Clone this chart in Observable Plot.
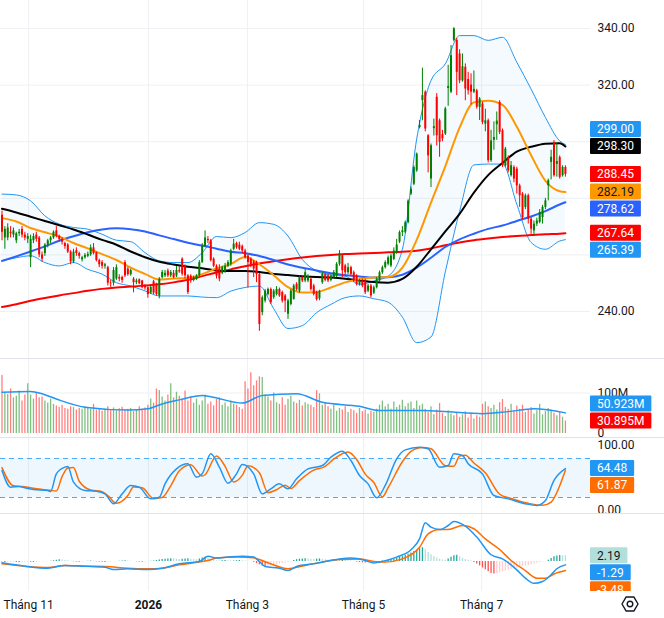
<!DOCTYPE html>
<html><head><meta charset="utf-8">
<script src="https://cdn.jsdelivr.net/npm/d3@7"></script>
<script src="https://cdn.jsdelivr.net/npm/@observablehq/plot@0.6"></script>
<style>
html,body{margin:0;padding:0;background:#fff;}
#chart{position:relative;width:664px;height:618px;overflow:hidden;background:#fff;}
.sep{position:absolute;left:0;width:664px;height:1px;background:#e0e3eb;}
</style></head><body><div id="chart"></div>
<script>
// ---------- DATA ----------
const monthIdx = [9.3, 51.2, 85.8, 126.4, 167.7];
const monthLabels = ["Tháng 11", "2026", "Tháng 3", "Tháng 5", "Tháng 7"];
const priceTicks = [240, 260, 280, 300, 320, 340];

const open = [274,266,266,268,267,265,267.5,269,267,265.5,
259,265,267,266,260,260.5,263.5,265,266,268.5,
266.5,265.5,264,263.5,261,257.5,261.5,260.5,258.3,259,
259.5,260,262.5,260.8,258,257.3,256,255.5,250,250,
251.5,252,252,257.3,255,253,251.4,250.2,251.2,250.8,
249,248.4,246.5,250.5,249.6,245.5,252,252.6,254.3,252.6,
253.5,252.5,254.5,258.5,256,252.6,252.5,251,251.5,252.6,
257.3,263,265.5,265,258.5,256,255,253.5,254,256,
256.7,262,264,263.5,263,261.4,259.6,258.5,257.5,257.3,
253.1,239.6,243.7,246,247.8,244.9,246,247.8,246.7,245.5,
239,242.5,244.3,249.6,247.2,252,250.8,250.8,251.4,249,
246.7,244.5,250.2,253,252.6,251,252,252.6,256.7,259.7,
256.1,253.7,255.5,253.7,252.5,249.6,250.8,250.8,247.2,249,
246.5,248.4,250.8,253.7,255.5,256.7,256.1,258.4,260.8,264.5,
267.9,268,271.4,281.5,285,289.7,305,314.5,317.5,302.1,
286.8,304.6,315.7,307.4,302.5,302.7,318.8,317.5,335.8,335.8,
331,321.5,326.3,322,320,317.5,318,312.1,313.3,306.2,
307.4,293.3,300.5,306,313.9,303.9,291.5,294.4,288,290.9,
290.3,284.4,281.5,276.8,280.9,272.6,268.5,270.9,271.5,273.2,
276.8,284.4,292.7,299.7,292,294.4,288,290.9];
const high = [275.5,270,271,270,269.5,268,269,270,268,267.5,
267,267.5,268,266.5,261,264,265.5,266.5,268.5,270,
267,266,264.5,264,261.5,262,262.5,261,259.5,260.5,
261,263.5,264,261,258.5,258,257,256,251,255.5,
256.5,253,252.5,258,255.5,255,252,251.5,251.5,251,
249.5,248.6,249,251,250,252,254.5,254.5,255,254.5,
254.5,256,256,259,256.5,253,253,252.5,253,258,
264,268.5,266.5,265.5,259,256.5,256.5,256,257,258,
262,265.5,264.5,264.5,263.5,262,260,259,258,257.8,
253.5,245.5,247.8,248.3,248.3,247.8,248.8,248.3,247.2,246,
244.3,247.8,249.6,250.2,252.5,252.5,254.8,253,252,249.6,
247.2,247.5,253.8,253.5,253,253,254.5,257.3,261.5,260.2,
256.7,257,256,254.3,253,251.4,251.4,251.4,249.6,249.6,
249,252,254.3,256.1,257.9,259.6,260.2,262.5,265.5,268.5,
270,272,279.5,284,291.5,296,307.5,326,318,302.5,
299.2,308,317,308,304,312.2,327,334,340.3,336.5,
332.5,331,327.5,324.5,324,325,318.5,315.6,314,311.5,
308,304,307,310.5,314.5,304.5,298,295,293,291.5,
291,285,282,281.5,281.5,273.2,272,273,276,277.5,
280,286.8,297,300.4,299.7,295,291.5,291.5];
const low = [265,262,265,266,266,264,266.5,266,265,264,
255.5,264,264.5,259,257.5,259.5,262.5,264,265.5,266,
264.5,263.5,262,260.5,256.5,257,259.5,258.5,257.5,258.5,
259,259.5,260,257.5,255.5,255,255,249,248.5,249,
251,250.5,250,252,252.5,252.5,246.6,249.5,249.5,248,
247.5,244.7,246,246,245.5,244.5,251.5,252,252,252,
251.5,252,253.5,252.5,251.5,246,250,250.5,251,252,
257,262.5,264,257.5,255.5,251.5,250.5,253,253.5,255.5,
256,261.5,262,261.5,260.5,258.5,248.4,255.5,252,250.2,
233,238.5,243,245.5,242.5,244.3,245.5,245,243,239.6,
237.2,242,244,247.2,246.5,250.2,250.2,250.2,247.2,245.5,
243.7,243.8,249.6,250.5,250.2,250.5,251.5,252,256,252,
252.6,253,252.5,250.2,249,249,248.4,246,246.7,244.8,
246,248,250.2,253.1,255,256.1,255.5,258,260.2,264,
266.5,267.5,271,281,284.5,289.2,304.5,307.4,303.5,289,
283.8,302,298.5,294.5,300,302.2,312.5,317,335.3,316.3,
320.5,321,314.5,316.5,313,317,311.5,307.5,306,303.5,
292.5,292.7,297,300.5,302.5,290.9,291,289,287.5,285.5,
281.5,276.8,272.5,276,270.9,267.3,266.7,270,271,270.9,
276,279.1,286.5,287.5,287.5,286.8,287.5,287.5];
const close = [268,269,269.5,267.5,268.5,267.5,268,267,266,266.5,
265.5,266.5,265.5,260,258.5,263.5,265,266,268,266.5,
265.5,264.5,263,261,257.5,261,260.5,259.5,259,259.8,
260.2,262.5,260.5,258,256.5,256,256.5,250,249.8,254.5,
255.5,251.5,251,252.6,253,254.5,250.2,250.8,249.8,248.4,
248.3,246,248.5,246.5,246,251.4,253.8,253.5,252.6,253.8,
252,254.5,254,253.2,252.6,246.7,250.8,252,252.5,257.3,
263.2,266,265,258,256,252.5,251.5,255.5,256,257.3,
261.4,263.8,262.5,262,261.4,259,257.3,256.5,255,253.1,
235.4,244.9,247.2,247.8,243.1,247.2,247.8,245.5,243.7,243.7,
243.7,247.2,249,247.8,252,250.8,253.7,252.3,247.8,246,
244.2,247,253.2,251,250.8,252.5,253.8,256.7,260.3,254.4,
253.7,255.5,253.1,250.8,249.6,250.8,249,246.7,249,245.5,
248.4,251.4,253.7,255.5,257.3,259,259.6,261.4,263.5,267.9,
268.5,271.4,279,283.2,290.9,295.6,305.8,316.3,304.5,295,
298.6,305.3,302.1,299.8,301,311.6,319.5,330.4,339.9,324.5,
321.5,326.5,318.6,318,317.5,318.5,312.2,315.1,306.8,307.4,
293.3,300.3,301.5,307.3,303.3,291.5,297.4,289.7,291.5,286.8,
284.4,280.9,273.2,280.9,272.6,269.1,270.9,272,275,276.8,
279.1,286.2,294.5,288,293,287.4,290.9,288.45];

// indicator lines (read every 5 candles)
const lineIdx = [0,5,10,15,20,25,30,35,40,45,50,55,60,65,70,75,80,85,90,95,100,105,110,115,120,125,130,135,140,145,150,155,160,165,170,175,180,185,190,195,197];
const ma20 = [273,271.8,269.5,268,266.5,264.2,262.3,260.3,258.2,255.5,253.3,251.3,251.7,251.8,253.2,255.2,256.8,259.3,256.7,252.8,248.6,246.7,246.9,248.5,250.3,251.4,252,252.2,255.5,265.3,278.5,291.3,305,313.9,314.5,313,305.3,295.2,286.2,282.5,282.19];
const ma50 = [276.3,275,273.5,272,270.5,269,267.2,265.3,263.6,261.2,259.2,257.6,256.6,255.8,255.3,254.5,254.3,254.3,254,253.3,252.9,252.5,252.2,252,251.6,251,250.4,250.2,251.5,255.8,262,268.3,274.5,282,288.2,292.5,296.5,298.2,299.3,299.5,298.30];
const ma100 = [257.9,259.5,261.2,263,265,266.6,268,269,269.4,269.1,268.3,266.9,265.6,264.3,263.3,262.2,261.1,260.6,259.6,258.2,256.6,255.5,254.5,253.5,252.8,252.4,252,252.1,253,255.5,259,262.8,265.5,267.5,269.2,270.4,272,273.6,275.5,277.8,278.62];
const ma200 = [241.6,242.6,243.8,244.8,245.7,246.5,247.3,248,248.5,248.8,249.2,249.6,250.3,251.2,252.5,253.8,254.9,256,257,257.8,258.5,259.1,259.6,260,260.3,260.5,260.7,260.9,261.1,261.5,262.3,263.4,264.4,265.2,265.8,266.3,266.7,267,267.3,267.5,267.64];
const bbUpper = [281.5,281.2,279.1,273.8,270.9,269.7,269.1,267.3,265.2,264.7,260.8,257.9,257.3,257.3,260.8,266.5,266.1,267.9,271.4,270.8,266.7,258.4,254.3,252.9,252.5,249.6,250.8,252.5,262,301,321.6,327.5,337.5,337.5,335.8,336.9,328.1,318.6,308.6,300.3,299.00];
const bbLower = [257.9,259,259.7,257.3,256.1,257.3,254.9,253.2,250.2,249,247.3,245.5,245.5,245.5,245.1,244.9,247.2,248.5,249,241,234,235,239.6,242.5,244.9,245.5,244.5,243.3,238,229,231,254,275.4,291.8,292.1,292.1,277.9,264.4,262,264.9,265.39];

// volume (millions)
const volume = [143,100,96,110,88,92,105,80,95,123,
95,85,100,88,90,80,75,85,72,
68,65,70,62,60,66,64,58,62,60,66,
64,60,72,58,62,55,60,66,58,63,56,61,65,57,60,62,54,58,66,60,63,
70,85,75,110,106,90,80,95,123,88,102,92,84,105,80,
90,75,85,70,80,95,72,78,68,84,88,70,75,66,80,72,70,64,60,
128,110,150,118,130,140,138,
95,90,80,100,76,72,88,70,84,92,78,74,82,68,76,72,70,64,
106,98,70,
75,66,60,70,55,62,58,66,52,60,56,50,62,54,58,48,55,52,60,
70,80,66,72,60,78,64,70,82,66,74,78,62,80,68,72,
60,52,66,46,58,74,50,42,56,48,44,52,40,46,54,38,50,36,44,40,
72,78,66,62,70,58,76,84,64,60,72,56,68,
60,70,52,58,64,48,56,72,46,54,62,58,50,44,52,40,30.895];
const volMaIdx = [0,10,14,19,29,44,51,56,62,70,73,84,91,103,112,125,132,147,156,168,177,186,197];
const volMa = [102,104,98,85,65,58,61,73,83,94,91,75,94,98,77,67,57,57,53.5,49,54,61,50.923];
const volTicks = [0, 100];

// Stoch RSI
const stochBands = [20, 80];
const stochTicks = [0, 100];
const stochKIdx = [0,3,6,8,11,16,17,19,22,23,25,29,33,36,39,42,45,48,52,55,57,61,65,68,70,73,76,79,82,84,88,91,94,97,100,103,107,112,115,119,122,125,128,131,134,138,141,146,149,153,156,158,161,163,168,172,177,183,187,190,193,197];
const stochK = [61.5,35.9,36.9,34.9,32.3,30.8,29.2,56.4,66.7,67.7,43.6,30.8,29.7,25.6,10.3,25.6,38.5,35.9,17.9,20.5,41,64.1,71.8,51.3,56.4,87.2,66.7,42,56.4,70.8,56.4,25.6,33.3,41,33.3,48.7,64.1,69.2,82,91.3,76.9,53.8,41,19.5,38.5,79.5,93.3,97.4,94.9,66.7,69.2,87.2,84.6,71.8,56.4,23.1,17.9,10.3,7.7,15.4,46.2,64.48];
const stochDIdx = [0,4,7,10,13,17,19,21,23,25,27,31,35,37,40,44,46,49,53,56,59,62,66,70,71,75,78,81,84,86,90,93,96,99,101,104,109,113,116,121,124,127,130,133,135,140,143,147,150,155,158,160,162,165,169,174,178,184,189,192,195,197];
const stochD = [66,38,37,35,33,31,30,52,65.5,66,45,31.5,29,23,11,23,36,35,18.5,20,38,61,70.5,53,55,84,68,44,54,69,58,27.5,32,39,34,46,62,68,79,90,78.5,56,43,21,35,75,91,97,95,69,68,84,85,73,58,25,18.5,11,8,13,38,61.87];

// MACD
const macdIdx = [0,8,16,22,29,36,39,44,51,56,62,69,72,75,79,84,88,90,92,97,100,103,109,118,122,127,130,132,138,143,146,148,150,153,156,158,162,166,171,175,180,183,186,189,192,194,197];
const macdLine = [-0.5,-1.8,-2.6,-1.5,-1.8,-2.2,-3.1,-2.8,-3.1,-2.6,-0.9,0,2.05,1.3,1.7,2.05,1.7,0,-1.9,-2.6,-3.5,-1.9,-0.9,1.0,1.3,0.4,-0.6,-0.2,1.7,4.5,8.7,14.9,13.2,12.3,13.85,15.4,13.6,9.4,2.6,1.0,-3.2,-6.4,-8.4,-7.7,-5.1,-2.8,-1.29];
const sigIdx = [0,8,16,22,29,36,44,51,56,62,67,72,75,82,88,93,100,106,118,125,130,134,140,146,149,153,156,161,165,169,174,178,183,187,190,193,197];
const sigLine = [-0.9,-1.8,-2.3,-1.5,-1.8,-1.9,-2.6,-2.8,-2.6,-1.3,-0.5,0.4,1.3,1.7,1.4,-0.5,-2.8,-1.5,0.8,1.0,0,-0.2,1.0,5.5,10.6,12.3,12.3,13.85,12.6,8.7,4.6,0.4,-3.5,-6.4,-6.4,-4.8,-3.48];
const macdHist = [-0.4,-0.5,-0.4,-0.3,-0.3,-0.4,-0.5,-0.4,-0.3,-0.2,-0.3,-0.4,-0.3,-0.2,-0.2,-0.1,-0.1,0.1,
0.3,0.5,0.7,0.6,0.4,0.3,
0.1,-0.1,-0.2,-0.3,-0.2,-0.1,0.1,0.2,0.1,-0.1,-0.2,-0.3,-0.4,-0.3,-0.2,-0.1,-0.1,0.1,0.2,0.3,0.2,0.1,0.0,-0.1,-0.2,-0.3,-0.2,-0.1,0.1,0.2,
0.4,0.6,0.8,0.9,1.0,1.1,1.0,0.9,0.8,0.9,1.0,1.1,0.9,0.8,0.7,
1.0,1.3,1.6,1.2,0.8,0.5,
0.3,0.2,0.3,0.4,0.3,0.2,0.2,0.3,0.4,0.3,0.2,0.1,0.0,
-0.3,-0.8,-1.3,-1.8,-2.0,-1.9,-1.7,-1.5,-1.2,-1.0,-0.8,-0.6,-0.4,-0.2,
0.4,0.7,0.9,1.0,1.1,1.0,0.9,0.8,0.9,1.0,0.8,
0.7,0.6,0.5,0.6,0.5,0.4,0.5,0.4,0.3,0.2,0.1,
-0.2,-0.4,-0.5,-0.6,-0.5,-0.4,-0.3,-0.2,-0.1,
0.2,0.4,0.6,0.8,1.0,1.3,1.6,2.0,2.4,2.8,3.3,3.8,4.3,4.9,5.3,
4.4,3.5,2.6,1.9,1.3,0.9,0.6,0.5,
1.0,1.6,2.2,2.4,1.8,
1.2,0.8,0.5,0.2,
-0.4,-1.0,-1.7,-2.5,-3.2,-3.9,-4.6,-4.8,-4.6,-4.3,-4.0,-3.7,
-3.4,-3.1,-2.8,-2.5,-2.2,-2.0,-1.8,-1.6,-1.3,-1.0,-0.7,-0.4,-0.2,-0.1,
0.5,1.2,1.8,2.1,2.3,2.2,2.19];

// ---------- STYLE / LAYOUT ----------
const W = 664, PW = 590, MR = W - PW;
const STEP = 2.86, XOFF = 1.5;
const XD = [-XOFF / STEP, (PW - XOFF) / STEP];
const FONT = "Roboto, 'Liberation Sans', Arial, sans-serif";
const TXT = "#131722", GRID = "#eef0f4";
const UP = "#008000", DN = "#ff0000";
const C_BB = "#2196f3", C_MA20 = "#ff9800", C_MA50 = "#000000", C_MA100 = "#2962ff", C_MA200 = "#ff0000";
const C_K = "#2196f3", C_D = "#ff6d00";
const styleObj = {fontFamily: FONT, fontSize: "12px", color: TXT, background: "#fff"};
const chart = document.getElementById("chart");

const candles = close.map((c, i) => ({i, o: open[i], h: high[i], l: low[i], c, up: c >= open[i]}));
const pts = (idx, vals) => idx.map((i, k) => ({i, v: vals[k]}));
const band = lineIdx.map((i, k) => ({i, lo: bbLower[k], up: bbUpper[k]}));

function place(svg, top) {
  svg.style.position = "absolute"; svg.style.left = "0px"; svg.style.top = top + "px";
  chart.appendChild(svg);
}
let clipN = 0;
function boxes(plot, items, clipH) {
  const y = plot.scale("y");
  const svg = d3.select(plot);
  const g = svg.append("g").attr("font-family", FONT).attr("font-size", 12).attr("text-anchor", "start");
  if (clipH) {
    const id = "bxclip" + (clipN++);
    svg.append("clipPath").attr("id", id).append("rect").attr("x", 0).attr("y", 0).attr("width", W).attr("height", clipH);
    g.attr("clip-path", `url(#${id})`);
  }
  const BH = 17, placed = [];
  for (const it of items) {
    let yy = y.apply(it.v), n = 0, hit;
    while ((hit = placed.find(p => Math.abs(p.y - yy) < BH)) && n++ < 10) {
      yy = hit.y + (it.v < hit.v ? BH : -BH);
    }
    placed.push({y: yy, v: it.v});
    const gg = g.append("g");
    const r = gg.append("rect").attr("x", PW).attr("y", yy - 8).attr("height", 16).attr("fill", it.bg).attr("rx", 1);
    const t = gg.append("text").attr("x", PW + 7).attr("y", yy).attr("dy", "0.35em").attr("text-anchor", "start").attr("fill", it.fg || "#fff").text(it.text);
    r.attr("width", t.node().getComputedTextLength() + 14);
  }
  return placed;
}
// tick labels that sit under a value box are hidden by it
function hideCovered(plot, ticks, fmt, placed) {
  const y = plot.scale("y");
  const covered = new Set(ticks.filter(t => placed.some(p => Math.abs(p.y - y.apply(t)) < 13)).map(fmt));
  d3.select(plot).selectAll("text").filter(function () {
    return covered.has(this.textContent) && !this.closest("g[text-anchor='start'] > g");
  }).filter(function () { return this.parentNode.getAttribute("aria-label") === "y-axis tick label" || this.closest("[aria-label='y-axis tick label']"); }).remove();
}

// ---------- PRICE PANE ----------
const fmt2 = d => d.toFixed(2);
const pricePlot = Plot.plot({
  width: W, height: 358, marginLeft: 0, marginRight: MR, marginTop: 0, marginBottom: 0,
  style: styleObj,
  x: {type: "linear", domain: XD, axis: null},
  y: {domain: [223.4, 349.9], axis: "right", ticks: priceTicks, tickFormat: fmt2, tickSize: 0, tickPadding: 7, label: null},
  marks: [
    Plot.ruleY(priceTicks, {stroke: GRID}),
    Plot.ruleX(monthIdx, {stroke: GRID}),
    Plot.areaY(band, {x: "i", y1: "lo", y2: "up", fill: C_BB, fillOpacity: 0.05, curve: "monotone-x"}),
    Plot.line(band, {x: "i", y: "up", stroke: C_BB, strokeWidth: 1, curve: "monotone-x"}),
    Plot.line(band, {x: "i", y: "lo", stroke: C_BB, strokeWidth: 1, curve: "monotone-x"}),
    Plot.line(pts(lineIdx, ma200), {x: "i", y: "v", stroke: C_MA200, strokeWidth: 2, curve: "monotone-x"}),
    Plot.line(pts(lineIdx, ma100), {x: "i", y: "v", stroke: C_MA100, strokeWidth: 2, curve: "monotone-x"}),
    Plot.line(pts(lineIdx, ma50), {x: "i", y: "v", stroke: C_MA50, strokeWidth: 2, curve: "monotone-x"}),
    Plot.line(pts(lineIdx, ma20), {x: "i", y: "v", stroke: C_MA20, strokeWidth: 2, curve: "monotone-x"}),
    Plot.ruleX(candles.filter(d => d.up), {x: "i", y1: "l", y2: "h", stroke: UP, strokeWidth: 1}),
    Plot.ruleX(candles.filter(d => !d.up), {x: "i", y1: "l", y2: "h", stroke: DN, strokeWidth: 1}),
    Plot.ruleX(candles.filter(d => d.up), {x: "i", y1: "o", y2: "c", stroke: UP, strokeWidth: 2}),
    Plot.ruleX(candles.filter(d => !d.up), {x: "i", y1: "o", y2: "c", stroke: DN, strokeWidth: 2})
  ]
});
place(pricePlot, 0);
const last = candles[candles.length - 1];
const pricePlaced = boxes(pricePlot, [
  {v: last.c, text: last.c.toFixed(2), bg: last.up ? UP : DN},
  {v: ma50.at(-1), text: ma50.at(-1).toFixed(2), bg: C_MA50},
  {v: ma20.at(-1), text: ma20.at(-1).toFixed(2), bg: C_MA20, fg: TXT},
  {v: ma200.at(-1), text: ma200.at(-1).toFixed(2), bg: C_MA200},
  {v: bbUpper.at(-1), text: bbUpper.at(-1).toFixed(2), bg: C_BB},
  {v: ma100.at(-1), text: ma100.at(-1).toFixed(2), bg: C_MA100},
  {v: bbLower.at(-1), text: bbLower.at(-1).toFixed(2), bg: C_BB}
]);
hideCovered(pricePlot, priceTicks, fmt2, pricePlaced);

// ---------- VOLUME PANE ----------
const vols = volume.map((v, i) => ({i, v, up: candles[i].up}));
const volPlot = Plot.plot({
  width: W, height: 79, marginLeft: 0, marginRight: MR, marginTop: 0, marginBottom: 0,
  style: styleObj,
  x: {type: "linear", domain: XD, axis: null},
  y: {domain: [-9.9, 185.2], axis: "right", ticks: volTicks, tickFormat: d => d === 0 ? "0" : d + "M", tickSize: 0, tickPadding: 7, label: null},
  marks: [
    Plot.ruleY([100], {stroke: GRID}),
    Plot.ruleX(monthIdx, {stroke: GRID}),
    Plot.ruleX(vols.filter(d => d.up), {x: "i", y1: 0, y2: "v", stroke: UP, strokeOpacity: 0.5, strokeWidth: 1.3}),
    Plot.ruleX(vols.filter(d => !d.up), {x: "i", y1: 0, y2: "v", stroke: DN, strokeOpacity: 0.5, strokeWidth: 1.3}),
    Plot.line(pts(volMaIdx, volMa), {x: "i", y: "v", stroke: C_BB, strokeWidth: 1.5, curve: "monotone-x"})
  ]
});
place(volPlot, 358);
boxes(volPlot, [
  {v: volume.at(-1), text: volume.at(-1).toFixed(3) + "M", bg: last.up ? UP : DN},
  {v: volMa.at(-1), text: volMa.at(-1).toFixed(3) + "M", bg: C_BB}
]);

// ---------- STOCH RSI PANE ----------
const stochPlot = Plot.plot({
  width: W, height: 76, marginLeft: 0, marginRight: MR, marginTop: 0, marginBottom: 0,
  style: styleObj,
  x: {type: "linear", domain: XD, axis: null},
  y: {domain: [-4.6, 112.3], axis: "right", ticks: stochTicks, tickFormat: fmt2, tickSize: 0, tickPadding: 7, label: null},
  marks: [
    Plot.ruleX(monthIdx, {stroke: GRID}),
    Plot.areaY(XD, {x: d => d, y1: () => stochBands[0], y2: () => stochBands[1], fill: C_BB, fillOpacity: 0.08}),
    Plot.ruleY(stochBands, {stroke: C_BB, strokeOpacity: 0.8, strokeDasharray: "5,4"}),
    Plot.line(pts(stochDIdx, stochD), {x: "i", y: "v", stroke: C_D, strokeWidth: 1.5, curve: "monotone-x"}),
    Plot.line(pts(stochKIdx, stochK), {x: "i", y: "v", stroke: C_K, strokeWidth: 1.5, curve: "monotone-x"})
  ]
});
place(stochPlot, 437);
boxes(stochPlot, [
  {v: stochK.at(-1), text: stochK.at(-1).toFixed(2), bg: C_K},
  {v: stochD.at(-1), text: stochD.at(-1).toFixed(2), bg: C_D}
]);

// ---------- MACD PANE ----------
const hist = macdHist.map((h, i) => {
  const p = i > 0 ? macdHist[i - 1] : h;
  const col = h >= 0 ? (h >= p ? "#26a69a" : "#b2dfdb") : (h < p ? "#ff5252" : "#ffcdd2");
  return {i, h, col};
});
const histCols = ["#26a69a", "#b2dfdb", "#ff5252", "#ffcdd2"];
const macdPlot = Plot.plot({
  width: W, height: 105, marginLeft: 0, marginRight: MR, marginTop: 0, marginBottom: 27,
  style: styleObj,
  x: {type: "linear", domain: XD, axis: "bottom", ticks: monthIdx, tickFormat: d => monthLabels[monthIdx.indexOf(d)], tickSize: 0, tickPadding: 9, label: null},
  y: {domain: [-11.54, 18.46], axis: null},
  marks: [
    Plot.ruleX(monthIdx, {stroke: GRID}),
    ...histCols.map(c => Plot.ruleX(hist.filter(d => d.col === c), {x: "i", y1: 0, y2: "h", stroke: c, strokeWidth: 1.3})),
    Plot.line(pts(sigIdx, sigLine), {x: "i", y: "v", stroke: C_D, strokeWidth: 1.5, curve: "monotone-x"}),
    Plot.line(pts(macdIdx, macdLine), {x: "i", y: "v", stroke: C_K, strokeWidth: 1.5, curve: "monotone-x"})
  ]
});
place(macdPlot, 513);
const lh = hist[hist.length - 1];
boxes(macdPlot, [
  {v: lh.h, text: lh.h.toFixed(2), bg: lh.col, fg: TXT},
  {v: macdLine.at(-1), text: macdLine.at(-1).toFixed(2), bg: C_K},
  {v: sigLine.at(-1), text: sigLine.at(-1).toFixed(2), bg: C_D}
], 78);
// bold year label
d3.select(macdPlot).selectAll("text").filter(function () { return this.textContent === "2026"; }).attr("font-weight", "bold");
// settings icon
(function () {
  const cx = 630, cy = 91, r = 8;
  const hex = d3.range(6).map(k => [cx + r * Math.cos(Math.PI / 3 * k), cy + r * Math.sin(Math.PI / 3 * k)]);
  const g = d3.select(macdPlot).append("g").attr("fill", "none").attr("stroke", TXT).attr("stroke-width", 1.4);
  g.append("path").attr("d", "M" + hex.join("L") + "Z").attr("stroke-linejoin", "round");
  g.append("circle").attr("cx", cx).attr("cy", cy).attr("r", 2.8);
})();

// pane separators
[358, 437, 513].forEach(t => {
  const s = document.createElement("div"); s.className = "sep"; s.style.top = t + "px"; chart.appendChild(s);
});
</script></body></html>
